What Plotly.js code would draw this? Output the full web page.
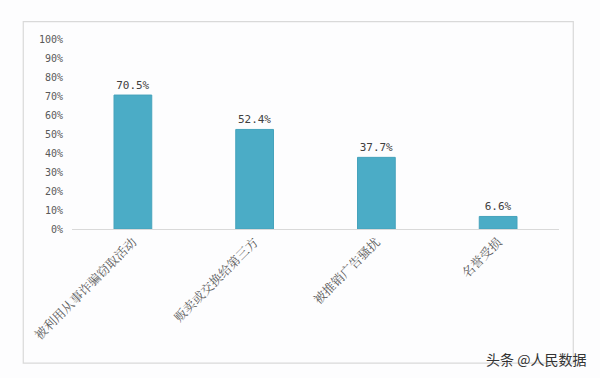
<!DOCTYPE html>
<html>
<head>
<meta charset="utf-8">
<script src="https://cdn.plot.ly/plotly-3.0.1.min.js"></script>
<style>
html,body{margin:0;padding:0;background:#fdfdfe;}
#chart{width:600px;height:378px;}
</style>
</head>
<body>
<div id="chart"></div>
<script>
const categories = ["被利用从事诈骗窃取活动", "贩卖或交换给第三方", "被推销广告骚扰", "名誉受损"];
const values = [0.705, 0.524, 0.377, 0.066];
const valueLabels = ["70.5%", "52.4%", "37.7%", "6.6%"];
const tickVals = [0, 0.1, 0.2, 0.3, 0.4, 0.5, 0.6, 0.7, 0.8, 0.9, 1.0];
const tickText = ["0%", "10%", "20%", "30%", "40%", "50%", "60%", "70%", "80%", "90%", "100%"];
const watermark = "头条 @人民数据";

const trace = {
  type: "bar",
  x: categories,
  y: values,
  text: valueLabels,
  textposition: "outside",
  cliponaxis: false,
  textfont: {family: "DejaVu Sans Mono, monospace", size: 11, color: "#404040"},
  marker: {color: "#4bacc6", line: {color: "#46a3bc", width: 1}},
  width: 0.31,
  hoverinfo: "none"
};

const layout = {
  width: 600,
  height: 378,
  margin: {l: 71.5, r: 41, t: 39, b: 149.3, pad: 0},
  paper_bgcolor: "#fdfdfe",
  plot_bgcolor: "#fdfdfe",
  showlegend: false,
  font: {family: "Noto Sans CJK SC, sans-serif", color: "#595959"},
  xaxis: {
    type: "category",
    tickangle: -45,
    showline: true,
    linecolor: "#d9d9d9",
    linewidth: 1,
    ticks: "",
    showgrid: false,
    tickfont: {family: "Noto Serif CJK SC, Noto Sans CJK SC, serif", size: 12.5, color: "#595959"},
    automargin: false
  },
  yaxis: {
    range: [0, 1],
    tickvals: tickVals,
    ticktext: tickText,
    showgrid: false,
    zeroline: false,
    showline: false,
    ticks: "",
    ticklabelstandoff: 8,
    tickfont: {family: "DejaVu Sans Mono, monospace", size: 10, color: "#595959"},
    automargin: false
  },
  shapes: [{
    type: "rect", xref: "paper", yref: "paper",
    x0: -48.8/487.5, x1: 501.8/487.5,
    y0: (228.7-362.7)/189.7, y1: (228.7-21.7)/189.7,
    line: {color: "#d9d9d9", width: 1.2},
    fillcolor: "rgba(0,0,0,0)"
  }],
  annotations: [{
    text: watermark,
    xref: "paper", yref: "paper",
    x: (588-71.5)/487.5, y: (228.7-358)/189.7,
    xanchor: "right", yanchor: "middle",
    showarrow: false,
    font: {family: "Noto Sans CJK SC, sans-serif", size: 14, color: "#333333"}
  }]
};

Plotly.newPlot("chart", [trace], layout, {displayModeBar: false, staticPlot: true});
</script>
</body>
</html>
